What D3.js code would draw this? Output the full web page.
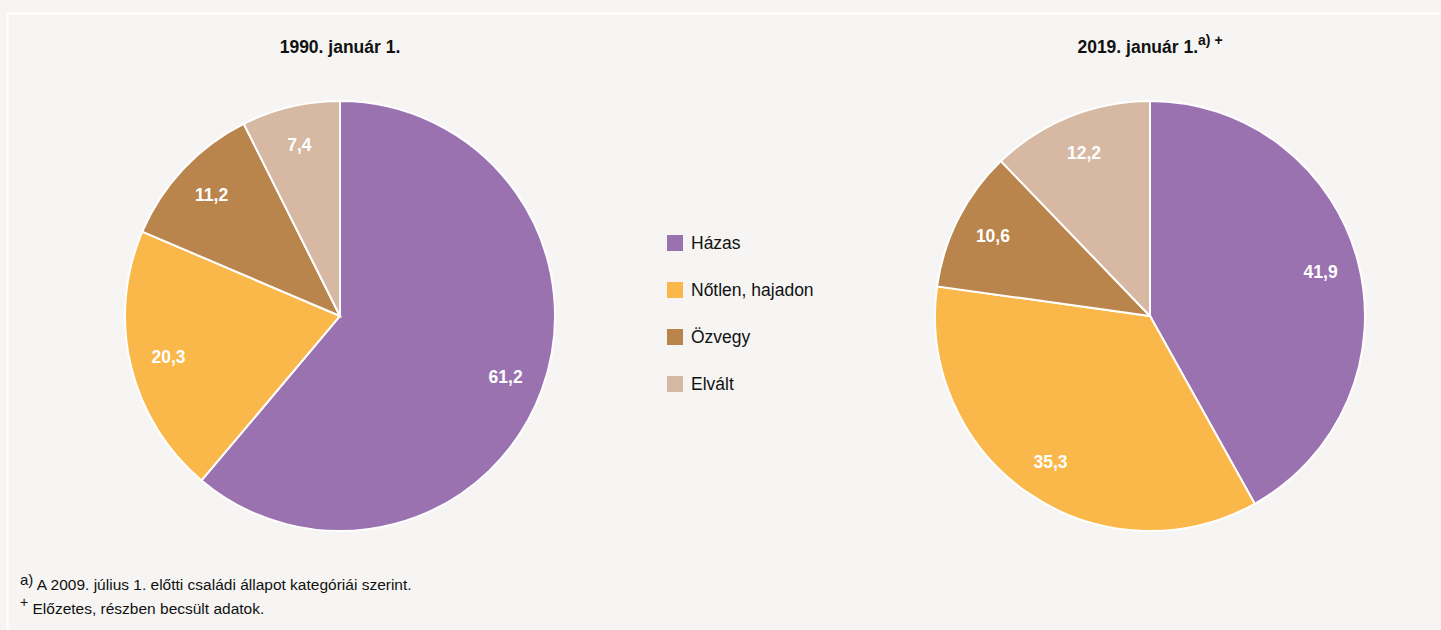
<!DOCTYPE html>
<html>
<head>
<meta charset="utf-8">
<script src="https://cdn.jsdelivr.net/npm/d3@7"></script>
<style>
  body { margin: 0; background: #f6f5f3; }
  svg text { font-family: "Liberation Sans Narrow", "Arial Narrow", "Liberation Sans", Arial, sans-serif; }
</style>
</head>
<body>
<div id="chart"></div>
<script>
// categories and values (per cent)
var categories = ["Házas", "Nőtlen, hajadon", "Özvegy", "Elvált"];
var colors = ["#9b72b0", "#fbb84a", "#b9854d", "#d6b8a3"];
var values1990 = [61.2, 20.3, 11.2, 7.4];
var values2019 = [41.9, 35.3, 10.6, 12.2];

var W = 1441, H = 630;
var svg = d3.select("#chart").append("svg")
  .attr("width", W).attr("height", H);

svg.append("rect").attr("width", W).attr("height", H).attr("fill", "#f6f5f3");
// faint frame
svg.append("path")
  .attr("d", "M7.5," + H + " V13.5 H" + W)
  .attr("fill", "none").attr("stroke", "#ffffff").attr("stroke-width", 2);

var radius = 215;
var pie = d3.pie().sort(null).value(function(d) { return d.value; });
var arc = d3.arc().innerRadius(0).outerRadius(radius);
var labelArc = d3.arc().innerRadius(radius * 0.82).outerRadius(radius * 0.82);
var fmt = function(v) { return d3.format(".1f")(v).replace(".", ","); };

function drawPie(cx, cy, values) {
  var data = categories.map(function(c, i) { return { key: c, value: values[i], color: colors[i] }; });
  var g = svg.append("g").attr("transform", "translate(" + cx + "," + cy + ")");
  var arcs = pie(data);
  g.selectAll("path").data(arcs).enter().append("path")
    .attr("d", arc)
    .attr("fill", function(d) { return d.data.color; })
    .attr("stroke", "#ffffff")
    .attr("stroke-width", 2);
  g.selectAll("text").data(arcs).enter().append("text")
    .attr("transform", function(d) { return "translate(" + labelArc.centroid(d) + ")"; })
    .attr("text-anchor", "middle")
    .attr("dy", "0.35em")
    .attr("fill", "#ffffff")
    .attr("font-weight", "bold")
    .attr("font-size", 17.5)
    .text(function(d) { return fmt(d.data.value); });
}

drawPie(340, 316, values1990);
drawPie(1150, 316, values2019);

// titles
svg.append("text").attr("x", 340).attr("y", 53).attr("text-anchor", "middle")
  .attr("font-weight", "bold").attr("font-size", 17.5).attr("fill", "#111")
  .text("1990. január 1.");
var t2 = svg.append("text").attr("x", 1150).attr("y", 53).attr("text-anchor", "middle")
  .attr("font-weight", "bold").attr("font-size", 17.5).attr("fill", "#111");
t2.append("tspan").text("2019. január 1.");
t2.append("tspan").attr("dy", -8).attr("font-size", 14).text("a) +");

// legend
var legend = svg.append("g").attr("transform", "translate(667,235)");
var items = legend.selectAll("g").data(categories).enter().append("g")
  .attr("transform", function(d, i) { return "translate(0," + (i * 47) + ")"; });
items.append("rect").attr("width", 16).attr("height", 16)
  .attr("fill", function(d, i) { return colors[i]; });
items.append("text").attr("x", 24).attr("y", 8).attr("dy", "0.35em")
  .attr("font-size", 17.5).attr("fill", "#111")
  .text(function(d) { return d; });

// footnotes
var f1 = svg.append("text").attr("x", 20).attr("y", 590).attr("font-size", 15.5).attr("fill", "#111");
f1.append("tspan").attr("dy", -5).attr("font-size", 15).text("a)");
f1.append("tspan").attr("dy", 5).text(" A 2009. július 1. előtti családi állapot kategóriái szerint.");
var f2 = svg.append("text").attr("x", 20).attr("y", 614).attr("font-size", 15.5).attr("fill", "#111");
f2.append("tspan").attr("dy", -7).attr("font-size", 14).text("+");
f2.append("tspan").attr("dy", 7).text(" Előzetes, részben becsült adatok.");
</script>
</body>
</html>
